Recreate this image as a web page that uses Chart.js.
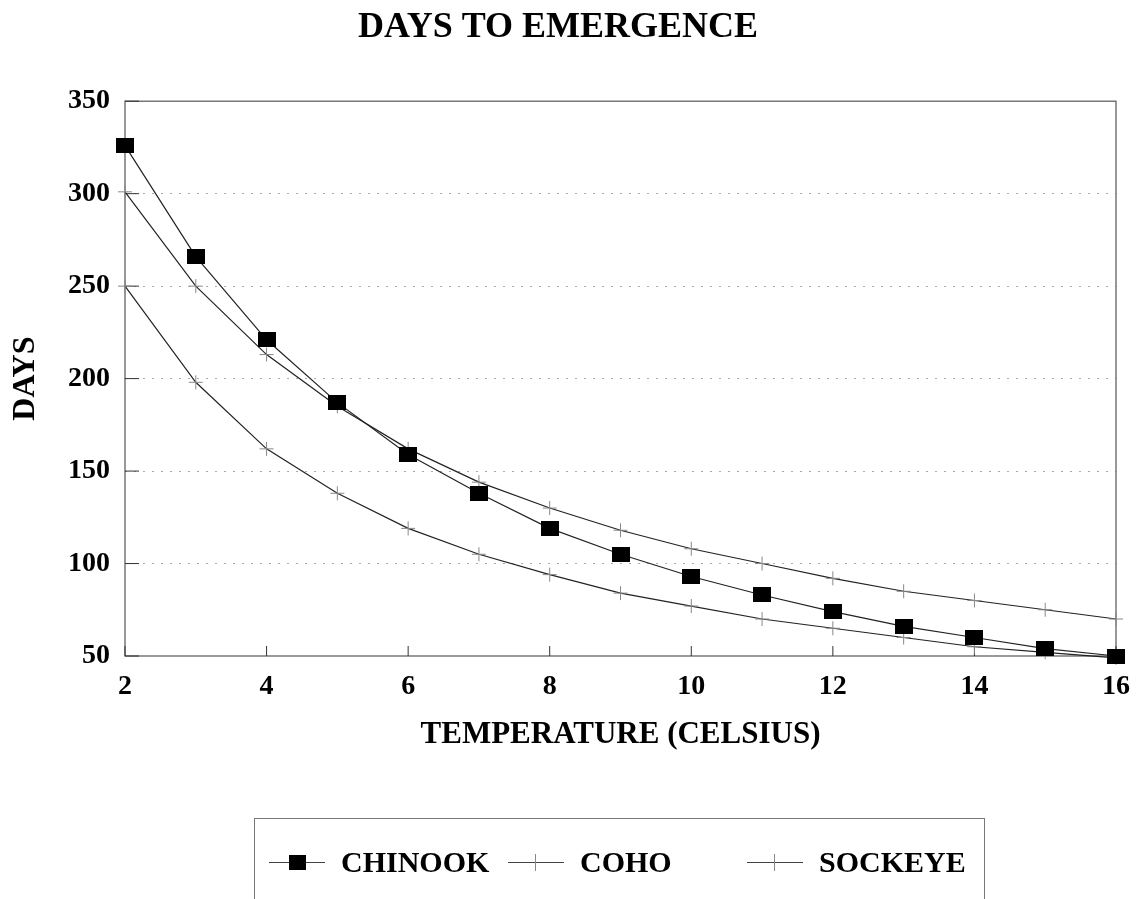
<!DOCTYPE html>
<html>
<head>
<meta charset="utf-8">
<title>Days to emergence</title>
<script src="https://cdn.jsdelivr.net/npm/chart.js@4/dist/chart.umd.min.js"></script>
<style>
body{margin:0;background:#fff;overflow:hidden}
#wrap{position:relative;width:1138px;height:899px}
#legenda{position:absolute;left:254px;top:818px;width:731px;height:110px;border:1px solid #777;box-sizing:border-box}
.item{position:absolute;top:25px;height:36px;display:flex;align-items:center;font:bold 30px "Liberation Serif","Times New Roman",serif;color:#000}
.simbolo{position:relative;width:56px;height:36px;margin-right:16px}
.simbolo .linha{position:absolute;left:0;right:0;top:18px;height:1px;background:#444}
.simbolo .quadrado{position:absolute;left:20px;top:11px;width:17px;height:15px;background:#000}
.simbolo .cruzV{position:absolute;left:27px;top:10px;width:1px;height:17px;background:#888}
</style>
</head>
<body>
<div id="wrap">
<canvas id="grafico" width="1138" height="899"></canvas>
<div id="legenda"></div>
</div>
<script>
// temperaturas (celsius) e dias ate a emergencia
const temperaturas=[2,3,4,5,6,7,8,9,10,11,12,13,14,15,16]
const chinook=[326,266,221,187,159,138,119,105,93,83,74,66,60,54,50]
const coho=[301,250,213,185,162,144,130,118,108,100,92,85,80,75,70]
const sockeye=[250,198,162,138,119,105,94,84,77,70,65,60,55,52,49]
const nomes=['CHINOOK','COHO','SOCKEYE']
const ticksY=[50,100,150,200,250,300,350]
const ticksX=[2,4,6,8,10,12,14,16]

const fonte='"Liberation Serif","Times New Roman",serif'

// marcador retangular do chinook
let marcador=document.createElement('canvas')
marcador.width=18
marcador.height=15
let mctx=marcador.getContext('2d')
mctx.fillStyle='#000'
mctx.fillRect(0,0,18,15)

function pontos(valores){
return temperaturas.map((t,i)=>({x:t,y:valores[i]}))
}

// moldura e marcas internas dos eixos
const moldura={
id:'moldura',
beforeDatasetsDraw(chart){
let{ctx,chartArea:a,scales}=chart
ctx.save()
ctx.strokeStyle='#555'
ctx.lineWidth=1.2
ctx.strokeRect(a.left,a.top,a.right-a.left,a.bottom-a.top)
ctx.strokeStyle='#333'
ctx.lineWidth=1
ticksY.forEach(v=>{
let y=scales.y.getPixelForValue(v)
ctx.beginPath()
ctx.moveTo(a.left,y)
ctx.lineTo(a.left+14,y)
ctx.stroke()
})
ticksX.forEach(v=>{
let x=scales.x.getPixelForValue(v)
ctx.beginPath()
ctx.moveTo(x,a.bottom)
ctx.lineTo(x,a.bottom-10)
ctx.stroke()
})
ctx.restore()
}
}

let grafico=new Chart(document.getElementById('grafico'),{
type:'line',
data:{
datasets:[{
label:nomes[0],
data:pontos(chinook),
borderColor:'#222',
borderWidth:1.2,
pointStyle:marcador,
pointRadius:9,
tension:0,
clip:false
},{
label:nomes[1],
data:pontos(coho),
borderColor:'#222',
borderWidth:1.2,
pointStyle:'cross',
pointRadius:7,
pointBorderColor:'#888',
pointBorderWidth:1,
tension:0,
clip:false
},{
label:nomes[2],
data:pontos(sockeye),
borderColor:'#222',
borderWidth:1.2,
pointStyle:'cross',
pointRadius:7,
pointBorderColor:'#888',
pointBorderWidth:1,
tension:0,
clip:false
}]
},
options:{
responsive:false,
animation:false,
layout:{padding:{left:0,right:22,top:0,bottom:0}},
plugins:{
legend:{display:false},
tooltip:{enabled:false},
title:{
display:true,
text:'DAYS TO EMERGENCE',
color:'#000',
font:{family:fonte,size:36,weight:'bold'},
padding:{top:6,bottom:52}
}
},
scales:{
x:{
type:'linear',
min:2,
max:16,
afterFit(s){
s.height=243
s.paddingLeft=0
s.paddingRight=0
},
afterBuildTicks(s){s.ticks=ticksX.map(v=>({value:v}))},
ticks:{color:'#000',padding:14,font:{family:fonte,size:28,weight:'bold'}},
grid:{display:false,drawTicks:false},
border:{display:false},
title:{
display:true,
text:'TEMPERATURE (CELSIUS)',
color:'#000',
font:{family:fonte,size:31,weight:'bold'},
padding:{top:0,bottom:145}
}
},
y:{
type:'linear',
min:50,
max:350,
afterFit(s){s.width=125},
afterBuildTicks(s){s.ticks=ticksY.map(v=>({value:v}))},
ticks:{color:'#000',padding:15,font:{family:fonte,size:28,weight:'bold'}},
grid:{
drawTicks:false,
color:c=>(c.tick&&(c.tick.value===50||c.tick.value===350))?'transparent':'#aaa'
},
border:{display:false,dash:[2,7]},
title:{
display:true,
text:'DAYS',
color:'#000',
font:{family:fonte,size:32,weight:'bold'},
padding:{top:7,bottom:0}
}
}
}
},
plugins:[moldura]
})

// legenda em html
let posicoes=[14,253,492]
let html=''
nomes.forEach((n,i)=>{
let simbolo=i===0
?'<div class="linha"></div><div class="quadrado"></div>'
:'<div class="linha"></div><div class="cruzV"></div>'
html+=`<div class="item" style="left:${posicoes[i]}px"><div class="simbolo">${simbolo}</div>${n}</div>`
})
document.getElementById('legenda').innerHTML=html
</script>
</body>
</html>
